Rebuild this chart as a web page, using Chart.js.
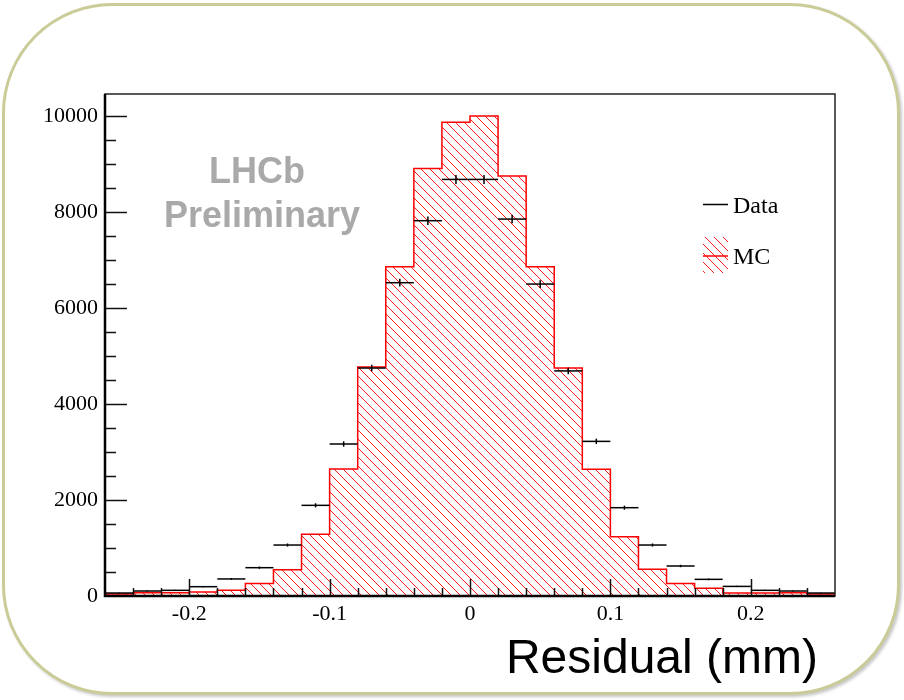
<!DOCTYPE html>
<html><head><meta charset="utf-8">
<script src="https://cdn.jsdelivr.net/npm/chart.js@4.4.1/dist/chart.umd.min.js"></script>
<style>
html,body{margin:0;padding:0;background:#fff;}
#wrap{position:relative;width:904px;height:700px;overflow:hidden;background:#fff;}
#frame{position:absolute;left:2px;top:3px;width:898px;height:692px;box-sizing:border-box;border:3px solid #cbcb98;border-radius:110px;box-shadow:2px 2px 3px rgba(0,0,0,0.22);background:#fff;}
canvas{position:absolute;left:0;top:0;}
</style></head><body>
<div id="wrap"><div id="frame"></div><canvas id="c" width="904" height="700"></canvas></div>
<script>
// ---- data ----
const binCenters = [-0.25,-0.23,-0.21,-0.19,-0.17,-0.15,-0.13,-0.11,-0.09,-0.07,-0.05,-0.03,-0.01,
                     0.01, 0.03, 0.05, 0.07, 0.09, 0.11, 0.13, 0.15, 0.17, 0.19, 0.21, 0.23, 0.25];
const dataCounts = [62,104,118,194,355,590,1062,1889,3167,4750,6528,7820,8680,
                    8680,7854,6500,4690,3222,1840,1062,625,347,200,118,104,62];
const mcCounts   = [40,69,69,83,118,260,545,1285,2646,4770,6860,8910,9869,
                    10000,8750,6860,4750,2640,1236,556,260,160,60,60,69,40];
const xTickLabels = [-0.2,-0.1,0,0.1,0.2];
const yTickLabels = [0,2000,4000,6000,8000,10000];
const seriesNames = ['Data','MC'];
const binWidth = 0.02;
const xMin = -0.26, xMax = 0.26, yMax = 10460;
const xMinorPerMajor = 5, yMinorPerMajor = 4;

// ---- helpers ----
function hatchPattern(ctx){
  const c=document.createElement('canvas'); c.width=9; c.height=9;
  const g=c.getContext('2d'); g.strokeStyle='#ff1a1a'; g.lineWidth=1;
  g.beginPath();
  for(const k of [-9,0,9]){ g.moveTo(k,0); g.lineTo(k+9,9); }
  g.stroke();
  return ctx.createPattern(c,'repeat');
}
const near=(a,b)=>Math.abs(a-b)<1e-7;

const canvas=document.getElementById('c');
const ctx0=canvas.getContext('2d');
const pattern=hatchPattern(ctx0);

const dataPts=binCenters.map((c,i)=>({x:c,y:dataCounts[i]}));
const mcSteps=binCenters.map((c,i)=>({x:c-binWidth/2,y:mcCounts[i]}));
mcSteps.push({x:binCenters[binCenters.length-1]+binWidth/2,y:mcCounts[mcCounts.length-1]});

const halfBinPx=(c)=>{const x=c.chart.scales.x; return Math.abs(x.getPixelForValue(binWidth)-x.getPixelForValue(0))/2;};
const errPx=(c)=>{const y=c.chart.scales.y; const v=dataCounts[c.dataIndex]||0; return Math.abs(y.getPixelForValue(v)-y.getPixelForValue(v+Math.sqrt(v)));};

// tick positions (major from the label arrays, minor subdividing them) within [lo,hi]
function tickSet(majors,nMinor,lo,hi){
  const step=(majors[1]-majors[0])/nMinor, out=[];
  for(let k=-200;k<=200;k++){
    const v=majors[0]+k*step;
    if(v<lo-1e-9||v>hi+1e-9) continue;
    out.push({v, major:(((k%nMinor)+nMinor)%nMinor)===0});
  }
  return out;
}

const decor={
  id:'decor',
  afterDatasetsDraw(chart){
    const {ctx,chartArea:a,scales:{x,y}}=chart;
    ctx.save();
    ctx.strokeStyle='#111'; ctx.lineWidth=1.5;
    for(const t of tickSet(xTickLabels,xMinorPerMajor,xMin,xMax)){
      if(near(t.v,xMin)||near(t.v,xMax)) continue;
      const px=Math.round(x.getPixelForValue(t.v))+0.5;
      const len=t.major?17:8;
      ctx.beginPath(); ctx.moveTo(px,a.bottom); ctx.lineTo(px,a.bottom-len); ctx.stroke();
    }
    for(const t of tickSet(yTickLabels,yMinorPerMajor,0,yMax)){
      if(t.v<=0) continue;
      const py=Math.round(y.getPixelForValue(t.v))+0.5;
      const len=t.major?22:11;
      ctx.beginPath(); ctx.moveTo(a.left,py); ctx.lineTo(a.left+len,py); ctx.stroke();
    }
    // frame
    ctx.strokeStyle='#222'; ctx.lineWidth=1.5;
    ctx.strokeRect(a.left,a.top,a.right-a.left,a.bottom-a.top);
    ctx.strokeStyle='#000'; ctx.lineWidth=2.5;
    ctx.beginPath(); ctx.moveTo(a.left,a.top); ctx.lineTo(a.left,a.bottom); ctx.lineTo(a.right,a.bottom); ctx.stroke();
    ctx.restore();
  },
  afterDraw(chart){
    const {ctx}=chart;
    ctx.save();
    // LHCb Preliminary
    ctx.fillStyle='#a9a9a9';
    ctx.font='bold 36px "Liberation Sans", Arial, sans-serif';
    ctx.textAlign='center'; ctx.textBaseline='alphabetic';
    ctx.fillText('LHCb',257,183);
    ctx.fillText('Preliminary',262,227);
    // legend
    ctx.strokeStyle='#000'; ctx.lineWidth=1.5;
    ctx.beginPath(); ctx.moveTo(703,204.5); ctx.lineTo(728,204.5); ctx.stroke();
    ctx.fillStyle=pattern; ctx.fillRect(703,237,25,36);
    ctx.strokeStyle='#ff0000'; ctx.lineWidth=1.5;
    ctx.beginPath(); ctx.moveTo(703,256); ctx.lineTo(728,256); ctx.stroke();
    ctx.fillStyle='#000';
    ctx.font='24px "Liberation Serif", "Times New Roman", serif';
    ctx.textAlign='left';
    ctx.fillText(seriesNames[0],733,213);
    ctx.fillText(seriesNames[1],733,264);
    // axis title
    ctx.font='48px "Liberation Sans", Arial, sans-serif';
    ctx.textAlign='right';
    ctx.fillText('Residual (mm)',818,673);
    ctx.restore();
  }
};

const tickFont={family:'"Liberation Serif", "Times New Roman", serif',size:22};

new Chart(canvas,{
  type:'scatter',
  data:{datasets:[
    {label:seriesNames[0],data:dataPts,pointStyle:'line',pointRadius:halfBinPx,pointHoverRadius:halfBinPx,
     borderColor:'#000',pointBorderColor:'#000',pointBorderWidth:1.5,pointHoverBorderWidth:1.5,order:0},
    {label:'err',data:dataPts,pointStyle:'line',pointRotation:90,pointRadius:errPx,pointHoverRadius:errPx,
     borderColor:'#000',pointBorderColor:'#000',pointBorderWidth:1.5,pointHoverBorderWidth:1.5,order:0},
    {label:seriesNames[1],type:'line',data:mcSteps,stepped:'before',borderColor:'#ff0000',borderWidth:1.5,
     pointRadius:0,fill:'origin',backgroundColor:pattern,order:1}
  ]},
  options:{
    responsive:false,animation:false,events:[],devicePixelRatio:1,
    layout:{padding:{top:94,right:69,left:0,bottom:0}},
    plugins:{legend:{display:false},tooltip:{enabled:false}},
    scales:{
      x:{type:'linear',min:xMin,max:xMax,
         grid:{display:false,drawTicks:false},border:{display:false},
         afterBuildTicks:(s)=>{s.ticks=xTickLabels.map(v=>({value:v}));},
         ticks:{autoSkip:false,maxRotation:0,minRotation:0,padding:5,color:'#000',font:tickFont,
                callback:(v)=>String(v)},
         afterFit:(s)=>{s.height=104;}},
      y:{type:'linear',min:0,max:yMax,
         grid:{display:false,drawTicks:false},border:{display:false},
         afterBuildTicks:(s)=>{s.ticks=yTickLabels.map(v=>({value:v}));},
         ticks:{autoSkip:false,padding:7,color:'#000',font:tickFont,
                callback:(v)=>String(v)},
         afterFit:(s)=>{s.width=105;}}
    }
  },
  plugins:[decor]
});
</script>
</body></html>
